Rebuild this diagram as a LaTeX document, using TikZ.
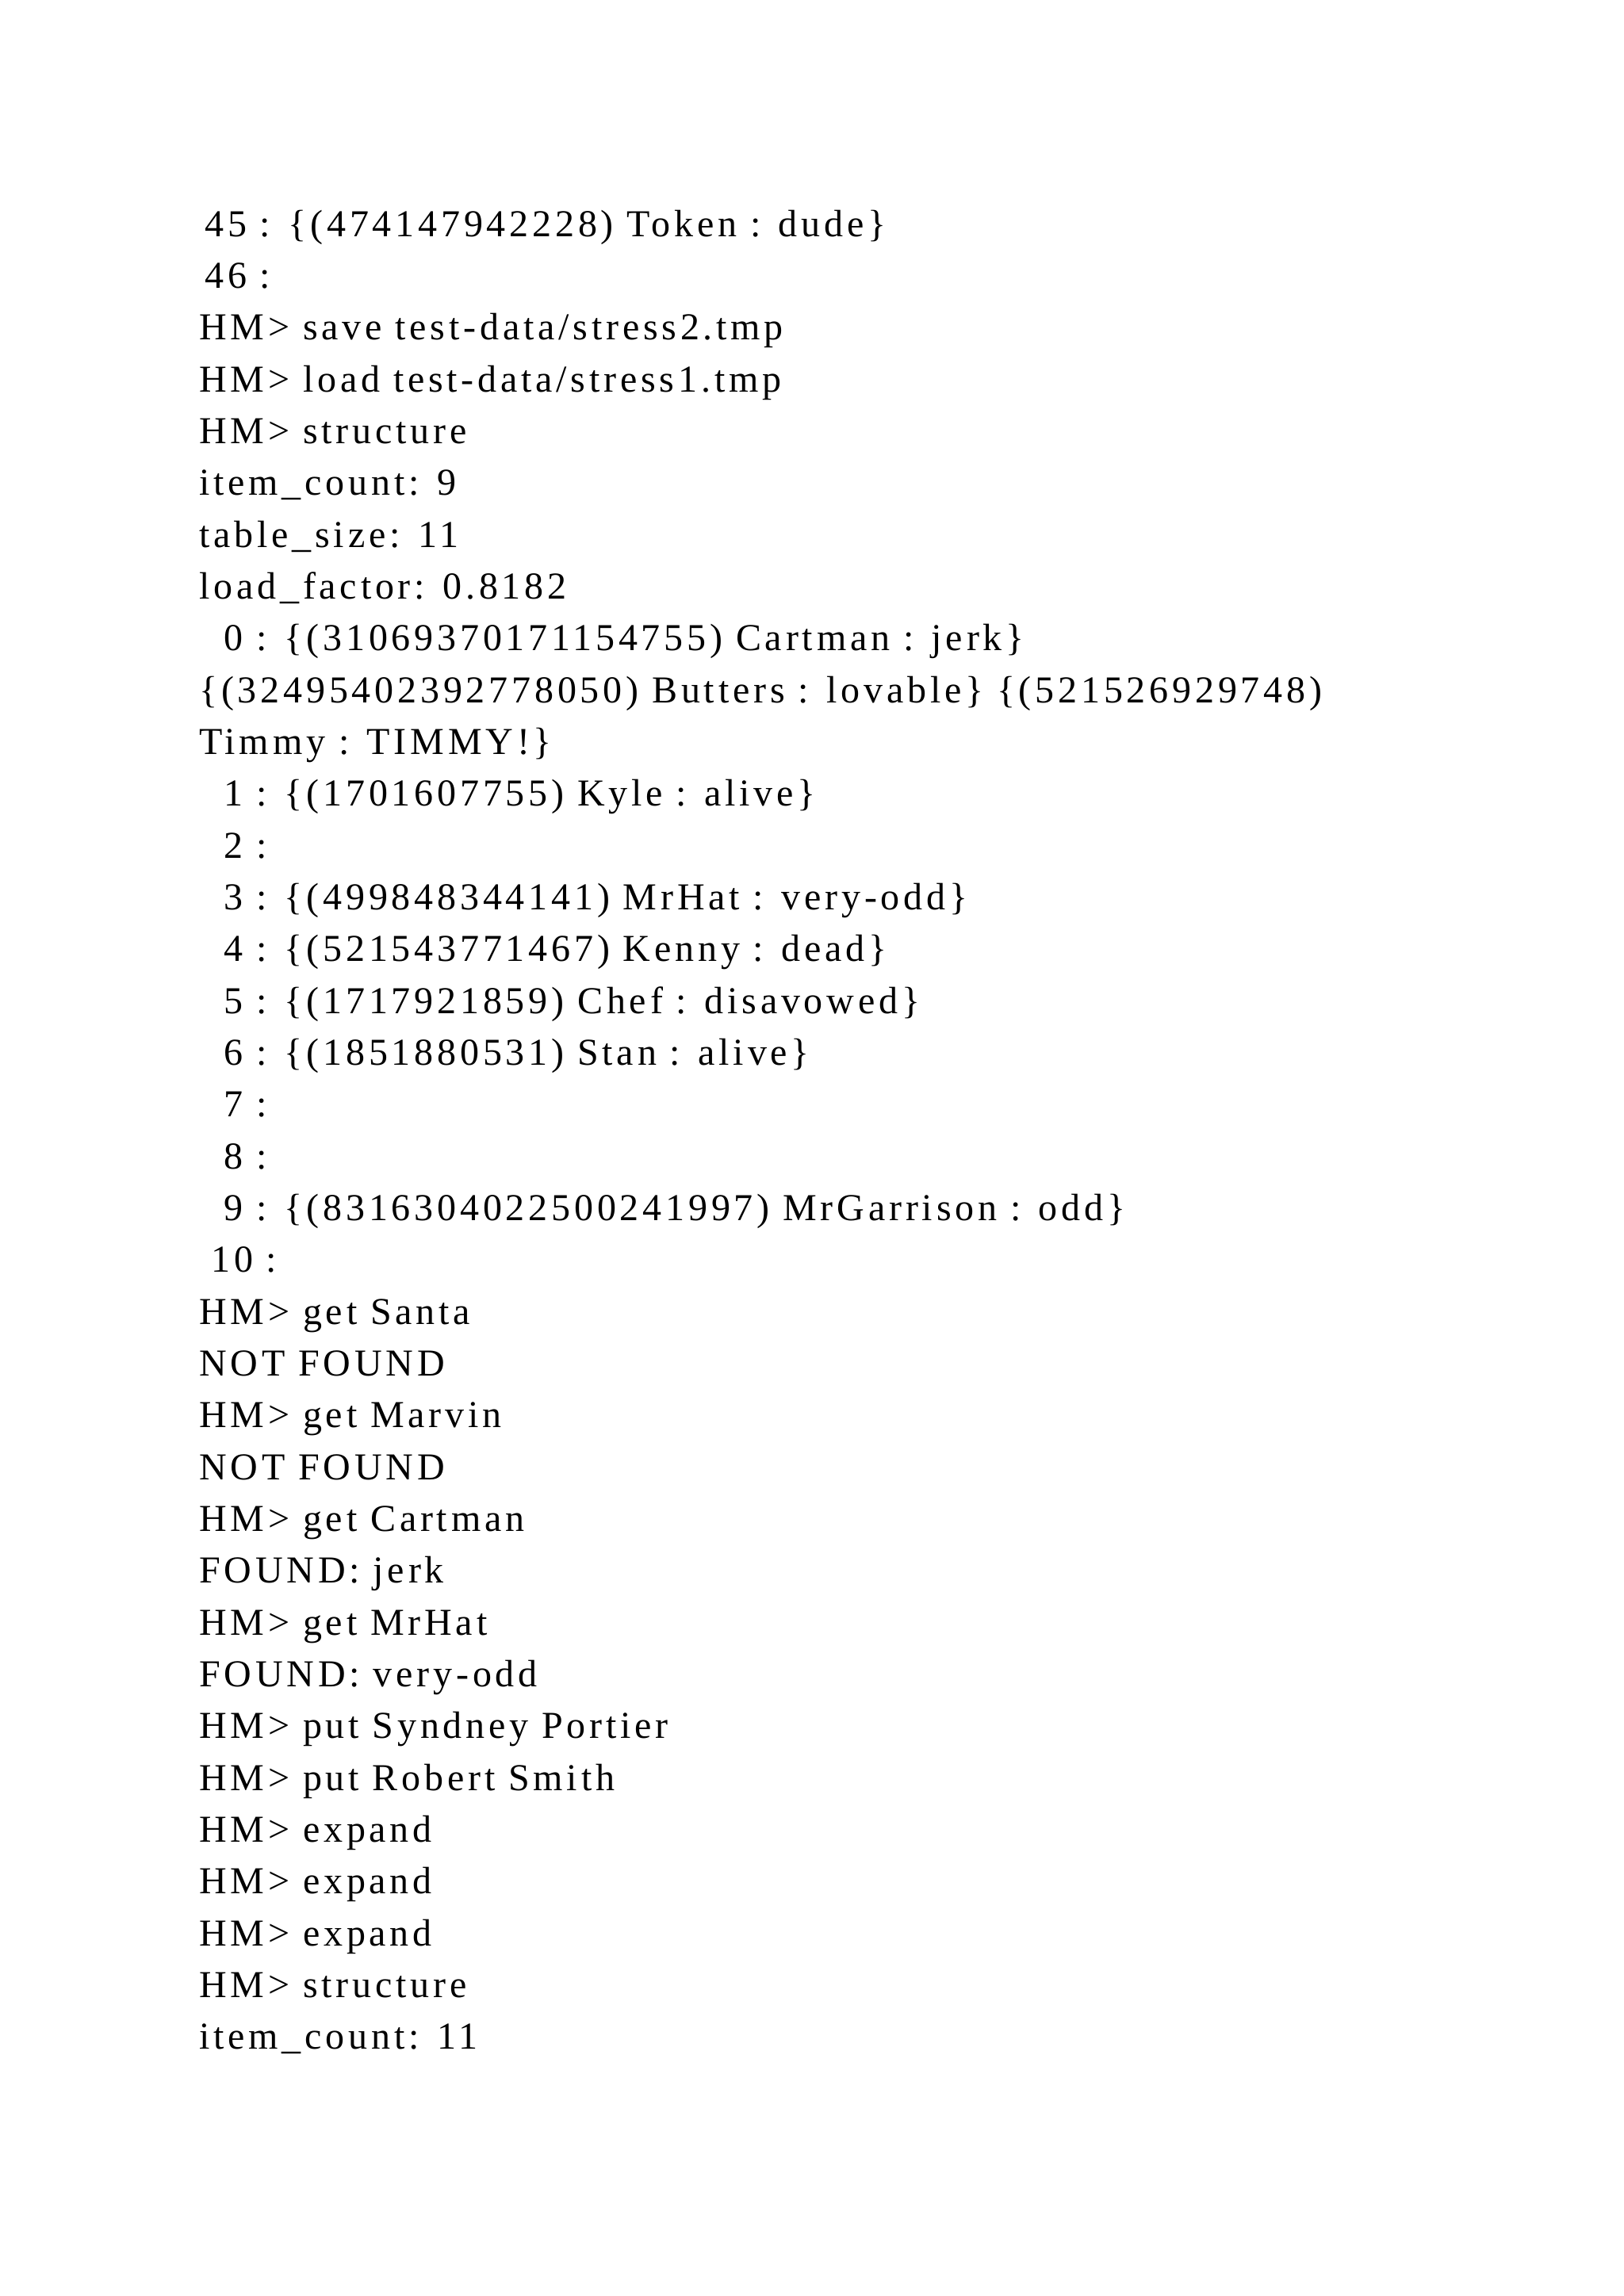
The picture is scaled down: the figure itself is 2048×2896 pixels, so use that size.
\documentclass[tikz,border=0pt]{standalone}
\usepackage{fontspec}
\setmainfont[LetterSpace=10]{Liberation Serif}
\begin{document}
\begin{tikzpicture}[x=0.5pt,y=-0.5pt,ln/.style={anchor=base west,inner sep=0pt,font=\fontsize{24}{28}\selectfont}]
\useasboundingbox (0,0) rectangle (2048,2896);
\def\L#1#2#3{\node[ln] (l#1) at (#2,{298+65.34*#1}) {#3};}
\L{0}{258}{45 : \{(474147942228) Token : dude\}}
\L{1}{258}{46 :}
\L{2}{251}{HM> save test-data/stress2.tmp}
\L{3}{251}{HM> load test-data/stress1.tmp}
\L{4}{251}{HM> structure}
\L{5}{251}{item\_count: 9}
\L{6}{251}{table\_size: 11}
\L{7}{251}{load\_factor: 0.8182}
\L{8}{282}{0 : \{(31069370171154755) Cartman : jerk\}}
\L{9}{251}{\{(32495402392778050) Butters : lovable\} \{(521526929748)}
\L{10}{251}{Timmy : TIMMY!\}}
\L{11}{282}{1 : \{(1701607755) Kyle : alive\}}
\L{12}{282}{2 :}
\L{13}{282}{3 : \{(499848344141) MrHat : very-odd\}}
\L{14}{282}{4 : \{(521543771467) Kenny : dead\}}
\L{15}{282}{5 : \{(1717921859) Chef : disavowed\}}
\L{16}{282}{6 : \{(1851880531) Stan : alive\}}
\L{17}{282}{7 :}
\L{18}{282}{8 :}
\L{19}{282}{9 : \{(8316304022500241997) MrGarrison : odd\}}
\L{20}{266}{10 :}
\L{21}{251}{HM> get Santa}
\L{22}{251}{NOT FOUND}
\L{23}{251}{HM> get Marvin}
\L{24}{251}{NOT FOUND}
\L{25}{251}{HM> get Cartman}
\L{26}{251}{FOUND: jerk}
\L{27}{251}{HM> get MrHat}
\L{28}{251}{FOUND: very-odd}
\L{29}{251}{HM> put Syndney Portier}
\L{30}{251}{HM> put Robert Smith}
\L{31}{251}{HM> expand}
\L{32}{251}{HM> expand}
\L{33}{251}{HM> expand}
\L{34}{251}{HM> structure}
\L{35}{251}{item\_count: 11}
\end{tikzpicture}
\end{document}
